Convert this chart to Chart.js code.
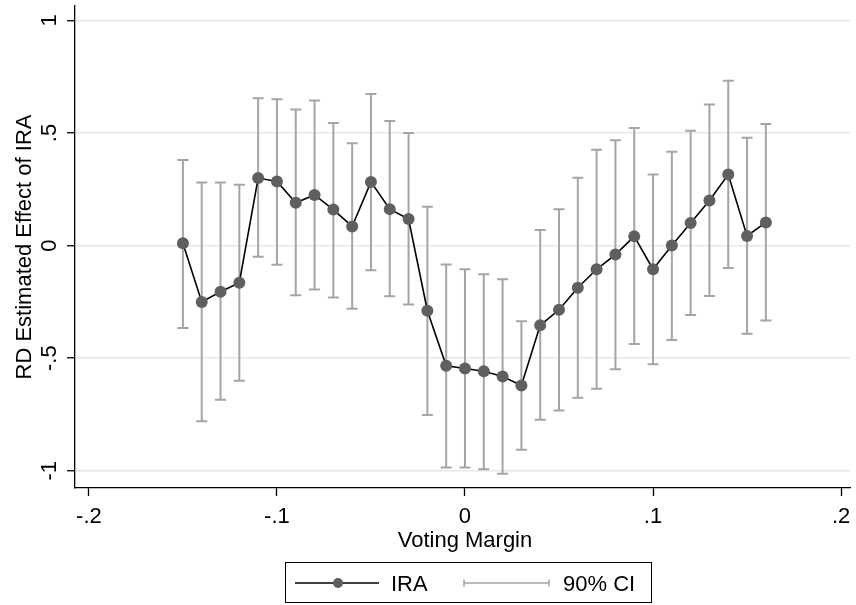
<!DOCTYPE html>
<html>
<head>
<meta charset="utf-8">
<script src="https://cdn.jsdelivr.net/npm/chart.js@4.4.1/dist/chart.umd.min.js"></script>
<style>
  html, body { margin: 0; padding: 0; background: #fff; }
  #rdChart { display: block; }
</style>
</head>
<body>
<canvas id="rdChart" width="856" height="605"></canvas>
<script>
// Voting margin bins and RD estimates
const margins = [-0.15, -0.14, -0.13, -0.12, -0.11, -0.10, -0.09, -0.08, -0.07, -0.06, -0.05,
  -0.04, -0.03, -0.02, -0.01, 0.00, 0.01, 0.02, 0.03, 0.04, 0.05, 0.06, 0.07, 0.08, 0.09,
  0.10, 0.11, 0.12, 0.13, 0.14, 0.15, 0.16];
const estimates = [0.01, -0.25, -0.205, -0.165, 0.30, 0.285, 0.19, 0.225, 0.16, 0.085, 0.283,
  0.162, 0.118, -0.289, -0.534, -0.546, -0.558, -0.581, -0.621, -0.354, -0.285, -0.187, -0.105,
  -0.04, 0.041, -0.105, 0.0, 0.10, 0.20, 0.316, 0.043, 0.103];
const ciHigh = [0.38, 0.28, 0.28, 0.27, 0.655, 0.65, 0.605, 0.645, 0.545, 0.455, 0.673,
  0.553, 0.50, 0.173, -0.084, -0.105, -0.127, -0.149, -0.336, 0.069, 0.162, 0.301, 0.426,
  0.468, 0.522, 0.316, 0.417, 0.51, 0.627, 0.732, 0.479, 0.54];
const ciLow = [-0.366, -0.78, -0.685, -0.60, -0.05, -0.085, -0.22, -0.195, -0.23, -0.28, -0.11,
  -0.225, -0.262, -0.752, -0.985, -0.985, -0.993, -1.013, -0.907, -0.774, -0.732, -0.676, -0.636,
  -0.549, -0.437, -0.527, -0.419, -0.308, -0.224, -0.10, -0.391, -0.333];

const xTicks = [-0.2, -0.1, 0, 0.1, 0.2];
const xTickLabels = ["-.2", "-.1", "0", ".1", ".2"];
const yTicks = [-1, -0.5, 0, 0.5, 1];
const yTickLabels = ["-1", "-.5", "0", ".5", "1"];

const FONT = '22px "Liberation Sans", Arial, Helvetica, sans-serif';
const CI_COLOR = "#a5a5a5";
const POINT_COLOR = "#5f5f5f";

// error bars drawn under the estimate line
const ciBars = {
  id: "ciBars",
  beforeDatasetsDraw(chart) {
    const { ctx, scales: { x, y } } = chart;
    ctx.save();
    ctx.strokeStyle = CI_COLOR;
    ctx.lineWidth = 2;
    margins.forEach((m, i) => {
      const px = x.getPixelForValue(m);
      const top = y.getPixelForValue(ciHigh[i]);
      const bot = y.getPixelForValue(ciLow[i]);
      ctx.beginPath();
      ctx.moveTo(px, top); ctx.lineTo(px, bot);
      ctx.moveTo(px - 5.5, top); ctx.lineTo(px + 5.5, top);
      ctx.moveTo(px - 5.5, bot); ctx.lineTo(px + 5.5, bot);
      ctx.stroke();
    });
    ctx.restore();
  },
};

// stata-like labels, titles and legend box
const labels = {
  id: "labels",
  afterDraw(chart) {
    const { ctx, scales: { x, y }, chartArea } = chart;
    ctx.save();
    ctx.fillStyle = "#000";
    ctx.font = FONT;

    ctx.textAlign = "center";
    ctx.textBaseline = "alphabetic";
    xTicks.forEach((v, i) => ctx.fillText(xTickLabels[i], x.getPixelForValue(v), 523));
    ctx.fillText("Voting Margin", x.getPixelForValue(0), 547);

    yTicks.forEach((v, i) => {
      ctx.save();
      ctx.translate(56, y.getPixelForValue(v));
      ctx.rotate(-Math.PI / 2);
      ctx.fillText(yTickLabels[i], 0, 0);
      ctx.restore();
    });
    ctx.save();
    ctx.translate(31, (chartArea.top + chartArea.bottom) / 2);
    ctx.rotate(-Math.PI / 2);
    ctx.fillText("RD Estimated Effect of IRA", 0, 0);
    ctx.restore();

    // legend
    ctx.strokeStyle = "#000";
    ctx.lineWidth = 1;
    ctx.strokeRect(285.5, 562.5, 366, 40);
    const ly = 583;
    ctx.lineWidth = 1.6;
    ctx.beginPath();
    ctx.moveTo(295, ly); ctx.lineTo(379, ly);
    ctx.stroke();
    ctx.fillStyle = POINT_COLOR;
    ctx.beginPath();
    ctx.arc(338, ly, 5, 0, Math.PI * 2);
    ctx.fill();
    ctx.strokeStyle = CI_COLOR;
    ctx.lineWidth = 1.5;
    ctx.beginPath();
    ctx.moveTo(464, ly); ctx.lineTo(549, ly);
    ctx.moveTo(464, ly - 3.5); ctx.lineTo(464, ly + 3.5);
    ctx.moveTo(549, ly - 3.5); ctx.lineTo(549, ly + 3.5);
    ctx.stroke();
    ctx.fillStyle = "#000";
    ctx.textAlign = "left";
    ctx.fillText("IRA", 391, 591);
    ctx.fillText("90% CI", 563, 591);
    ctx.restore();
  },
};

const ctx = document.getElementById("rdChart").getContext("2d");
const rdChart = new Chart(ctx, {
  type: "line",
  data: {
    datasets: [
      {
        label: "IRA",
        data: margins.map((m, i) => ({ x: m, y: estimates[i] })),
        borderColor: "#000",
        borderWidth: 1.6,
        pointRadius: 6,
        pointBackgroundColor: POINT_COLOR,
        pointBorderWidth: 0,
        tension: 0,
      },
    ],
  },
  options: {
    responsive: false,
    animation: false,
    layout: { padding: { top: 5, left: 0, right: 0, bottom: 0 } },
    plugins: {
      legend: { display: false },
      tooltip: { enabled: false },
    },
    scales: {
      x: {
        type: "linear",
        min: -0.20739,
        max: 0.20475,
        afterFit: (scale) => { scale.height = 117; },
        ticks: { display: false, stepSize: 0.1, includeBounds: false },
        grid: { drawOnChartArea: false, tickLength: 8, tickColor: "#000", tickWidth: 1.3 },
        border: { color: "#000", width: 1.3 },
      },
      y: {
        type: "linear",
        min: -1.0766,
        max: 1.0642,
        afterFit: (scale) => { scale.width = 75; },
        ticks: { display: false, stepSize: 0.5, includeBounds: false },
        grid: { color: "#e8e8e8", lineWidth: 1.5, tickLength: 8, tickColor: "#000", tickWidth: 1.3 },
        border: { color: "#000", width: 1.3 },
      },
    },
  },
  plugins: [ciBars, labels],
});
</script>
</body>
</html>
